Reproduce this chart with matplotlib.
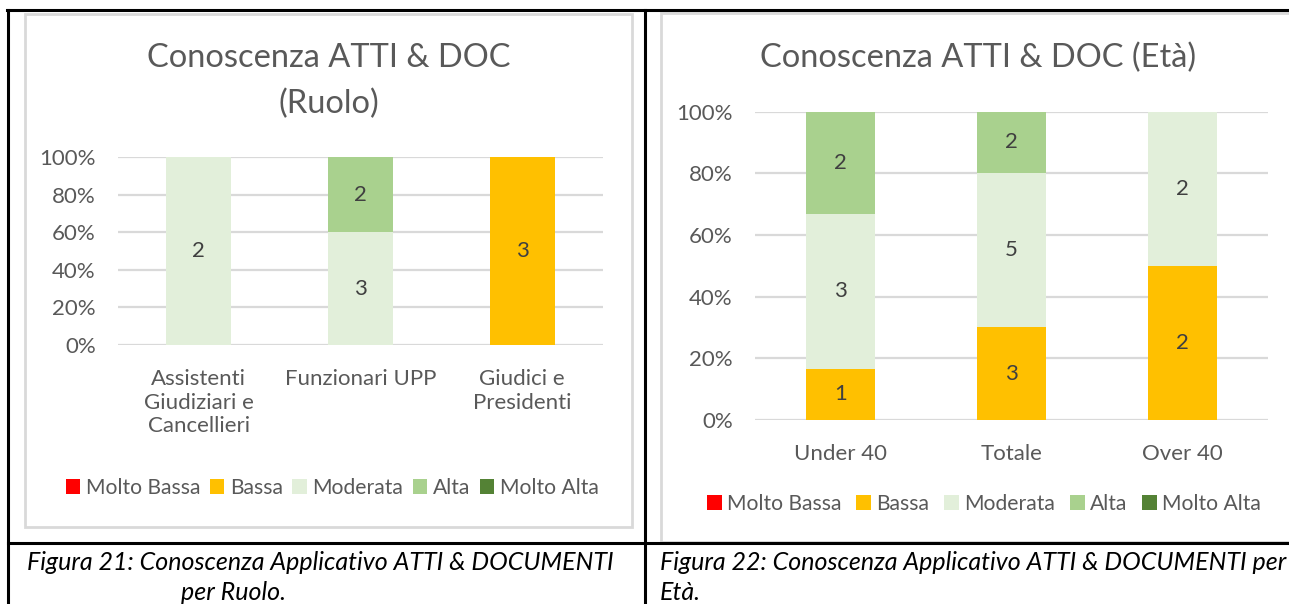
import matplotlib
matplotlib.use("Agg")
import matplotlib.pyplot as plt
from matplotlib.patches import Rectangle
import numpy as np

plt.rcParams['font.family'] = ['Lato', 'DejaVu Sans']

# --- data ---------------------------------------------------------------
levels = ['Molto Bassa', 'Bassa', 'Moderata', 'Alta', 'Molto Alta']
level_colors = ['#FF0000', '#FFC000', '#E2EFDA', '#A9D18E', '#548235']

ruolo_cats = ['Assistenti\nGiudiziari e\nCancellieri', 'Funzionari UPP', 'Giudici e\nPresidenti']
ruolo_molto_bassa = [0, 0, 0]
ruolo_bassa = [0, 0, 3]
ruolo_moderata = [2, 3, 0]
ruolo_alta = [0, 2, 0]
ruolo_molto_alta = [0, 0, 0]

eta_cats = ['Under 40', 'Totale', 'Over 40']
eta_molto_bassa = [0, 0, 0]
eta_bassa = [1, 3, 2]
eta_moderata = [3, 5, 2]
eta_alta = [2, 2, 0]
eta_molto_alta = [0, 0, 0]

W, H = 1289, 604
GRAY = '#595959'
GRID = '#D9D9D9'


def px_axes(fig, left, top, right, bottom):
    """Add axes from pixel box (origin top-left)"""
    return fig.add_axes([left / W, 1 - bottom / H, (right - left) / W, (bottom - top) / H])


def draw_chart(ax, cats, series, legend_xy, colspace):
    x = np.arange(len(cats))
    data = np.array(series, dtype=float)
    totals = data.sum(axis=0)
    bottom = np.zeros(len(cats))
    for vals, name, col in zip(data, levels, level_colors):
        pct = vals / totals * 100
        bars = ax.bar(x, pct, 0.4, bottom=bottom, color=col, label=name, zorder=3)
        labels = [str(int(v)) if v > 0 else '' for v in vals]
        ax.bar_label(bars, labels=labels, label_type='center', fontsize=16, color='#404040')
        bottom += pct

    ax.set_xlim(-0.5, len(cats) - 0.5)
    ax.set_ylim(0, 100)
    ax.set_yticks(np.arange(0, 101, 20))
    ax.set_yticklabels([f'{v}%' for v in range(0, 101, 20)])
    ax.set_xticks(x)
    ax.set_xticklabels(cats, linespacing=1.22)
    ax.tick_params(axis='both', length=0, labelsize=16, labelcolor=GRAY)
    ax.tick_params(axis='x', pad=17.5)
    ax.tick_params(axis='y', pad=16)
    ax.grid(axis='y', color=GRID, lw=1.6, zorder=0)
    ax.set_axisbelow(True)
    for s in ax.spines.values():
        s.set_visible(False)
    ax.set_facecolor('none')

    lx, ly = legend_xy
    ax.legend(loc='center', bbox_to_anchor=(lx / W, 1 - ly / H), bbox_transform=ax.figure.transFigure,
              ncol=5, frameon=False, fontsize=15.2, labelcolor=GRAY,
              handlelength=0.7, handleheight=0.7, handletextpad=0.25, columnspacing=colspace)


fig = plt.figure(figsize=(W / 100, H / 100), dpi=100)

# page layer: table borders, chart frames, titles, captions (pixel coords)
page = fig.add_axes([0, 0, 1, 1])
page.set_xlim(0, W)
page.set_ylim(H, 0)
page.axis('off')
page.set_zorder(0)

page.add_patch(Rectangle((25, 14), 607, 513, facecolor='white', edgecolor=GRID, lw=2))
page.add_patch(Rectangle((661, 13), 700, 529, facecolor='white', edgecolor=GRID, lw=2))

page.plot([7, W], [10, 10], color='black', lw=2.2)
page.plot([8, 8], [10, H], color='black', lw=2.2)
page.plot([644.5, 644.5], [10, H], color='black', lw=2.2)
page.plot([8, W], [542.5, 542.5], color='black', lw=2.2)

page.text(329, 58, 'Conoscenza ATTI & DOC', ha='center', va='center', fontsize=23.5, color=GRAY)
page.text(329, 104, '(Ruolo)', ha='center', va='center', fontsize=23.5, color=GRAY)
page.text(978, 58, 'Conoscenza ATTI & DOC (Età)', ha='center', va='center', fontsize=23.5, color=GRAY)

cap = dict(fontsize=18, style='italic', color='black', va='center')
page.text(320, 562, 'Figura 21: Conoscenza Applicativo ATTI & DOCUMENTI', ha='center', **cap)
page.text(181, 592, 'per Ruolo.', ha='left', **cap)
page.text(660, 562, 'Figura 22: Conoscenza Applicativo ATTI & DOCUMENTI per', ha='left', **cap)
page.text(660, 592, 'Età.', ha='left', **cap)

ax1 = px_axes(fig, 118, 157, 603, 345)
ax1.set_zorder(1)
draw_chart(ax1, ruolo_cats,
           [ruolo_molto_bassa, ruolo_bassa, ruolo_moderata, ruolo_alta, ruolo_molto_alta],
           (332, 488), 0.45)

ax2 = px_axes(fig, 755, 111.5, 1268, 420)
ax2.set_zorder(1)
draw_chart(ax2, eta_cats,
           [eta_molto_bassa, eta_bassa, eta_moderata, eta_alta, eta_molto_alta],
           (984, 504), 0.7)

fig.savefig('out.png', dpi=100)
